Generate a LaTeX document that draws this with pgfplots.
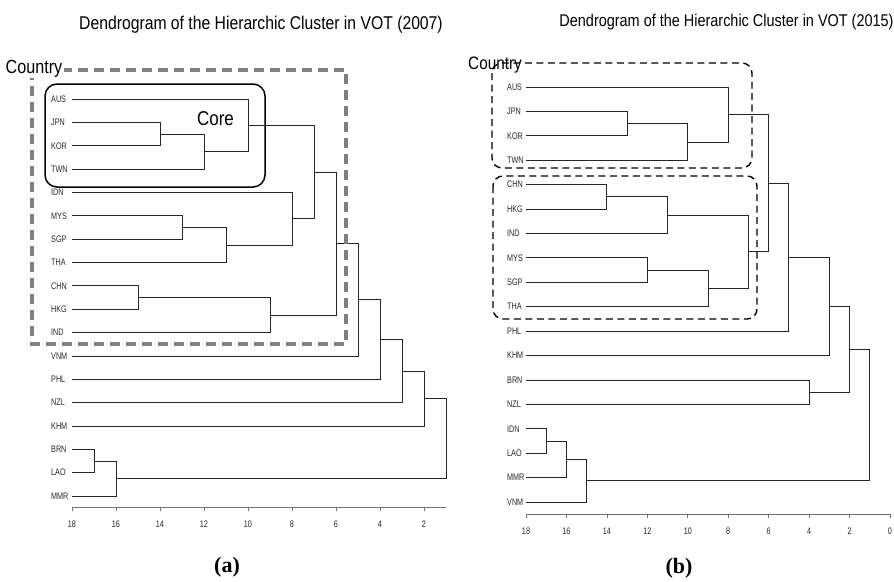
\documentclass[border=0pt]{standalone}
\usepackage{fontspec}
\setmainfont{Liberation Sans}
\newfontfamily\narrow[FakeStretch=0.76]{Liberation Sans}
\newfontfamily\titlefont[FakeStretch=0.85]{Liberation Sans}
\newfontfamily\capfont{Liberation Serif}
\usepackage{pgfplots}
\pgfplotsset{compat=1.18}
\pgfplotsset{
  dendro/.style={
    scale only axis, clip=false, x dir=reverse,
    axis x line*=bottom, axis y line=none,
    x axis line style={black!55, line width=0.6pt},
    xtick align=outside, major tick length=4pt,
    xtick style={black!55, line width=0.6pt},
    xticklabel style={font=\narrow\fontsize{9.5}{9.5}\selectfont, text=black!85, yshift=-6pt},
    /pgf/number format/assume math mode=true,
  },
}
\tikzset{
  br/.style={black!85, line width=0.8pt, mark=none},
  leaf/.style={anchor=west, inner sep=0pt, font=\narrow\fontsize{9.5}{9.5}\selectfont, text=black!85},
}
\begin{document}
\begin{tikzpicture}
\useasboundingbox (0,0) rectangle (894pt,-581pt);
\fill[white] (0,0) rectangle (894pt,-581pt);
% ---------------- (a) 2007 ----------------
\begin{axis}[dendro, at={(72pt,-507pt)}, anchor=south west,
  width=374pt, height=431.3pt, xmin=1, xmax=18, ymin=0.53, ymax=19,
  xtick={18,16,...,2}]
\addplot[br] coordinates {(18,17) (14,17) (14,16) (18,16)};
\addplot[br] coordinates {(14,16.5) (12,16.5) (12,15) (18,15)};
\addplot[br] coordinates {(18,18) (10,18) (10,15.75) (12,15.75)};
\addplot[br] coordinates {(18,13) (13,13) (13,12) (18,12)};
\addplot[br] coordinates {(13,12.5) (11,12.5) (11,11) (18,11)};
\addplot[br] coordinates {(18,14) (8,14) (8,11.75) (11,11.75)};
\addplot[br] coordinates {(10,16.875) (7,16.875) (7,12.875) (8,12.875)};
\addplot[br] coordinates {(18,10) (15,10) (15,9) (18,9)};
\addplot[br] coordinates {(15,9.5) (9,9.5) (9,8) (18,8)};
\addplot[br] coordinates {(7,14.875) (6,14.875) (6,8.75) (9,8.75)};
\addplot[br] coordinates {(6,11.8125) (5,11.8125) (5,7) (18,7)};
\addplot[br] coordinates {(5,9.40625) (4,9.40625) (4,6) (18,6)};
\addplot[br] coordinates {(4,7.703125) (3,7.703125) (3,5) (18,5)};
\addplot[br] coordinates {(3,6.3515625) (2,6.3515625) (2,4) (18,4)};
\addplot[br] coordinates {(18,3) (17,3) (17,2) (18,2)};
\addplot[br] coordinates {(17,2.5) (16,2.5) (16,1) (18,1)};
\addplot[br] coordinates {(2,5.17578125) (1,5.17578125) (1,1.75) (16,1.75)};
\node[leaf, xshift=-21pt] at (axis cs:18,18) {AUS};
\node[leaf, xshift=-21pt] at (axis cs:18,17) {JPN};
\node[leaf, xshift=-21pt] at (axis cs:18,16) {KOR};
\node[leaf, xshift=-21pt] at (axis cs:18,15) {TWN};
\node[leaf, xshift=-21pt] at (axis cs:18,14) {IDN};
\node[leaf, xshift=-21pt] at (axis cs:18,13) {MYS};
\node[leaf, xshift=-21pt] at (axis cs:18,12) {SGP};
\node[leaf, xshift=-21pt] at (axis cs:18,11) {THA};
\node[leaf, xshift=-21pt] at (axis cs:18,10) {CHN};
\node[leaf, xshift=-21pt] at (axis cs:18,9) {HKG};
\node[leaf, xshift=-21pt] at (axis cs:18,8) {IND};
\node[leaf, xshift=-21pt] at (axis cs:18,7) {VNM};
\node[leaf, xshift=-21pt] at (axis cs:18,6) {PHL};
\node[leaf, xshift=-21pt] at (axis cs:18,5) {NZL};
\node[leaf, xshift=-21pt] at (axis cs:18,4) {KHM};
\node[leaf, xshift=-21pt] at (axis cs:18,3) {BRN};
\node[leaf, xshift=-21pt] at (axis cs:18,2) {LAO};
\node[leaf, xshift=-21pt] at (axis cs:18,1) {MMR};
\end{axis}
% ---------------- (b) 2015 ----------------
\begin{axis}[dendro, at={(526pt,-514pt)}, anchor=south west,
  width=364pt, height=451.4pt, xmin=0, xmax=18, ymin=0.508, ymax=19,
  xtick={18,16,...,0}]
\addplot[br] coordinates {(18,17) (13,17) (13,16) (18,16)};
\addplot[br] coordinates {(13,16.5) (10,16.5) (10,15) (18,15)};
\addplot[br] coordinates {(18,18) (8,18) (8,15.75) (10,15.75)};
\addplot[br] coordinates {(18,14) (14,14) (14,13) (18,13)};
\addplot[br] coordinates {(14,13.5) (11,13.5) (11,12) (18,12)};
\addplot[br] coordinates {(18,11) (12,11) (12,10) (18,10)};
\addplot[br] coordinates {(12,10.5) (9,10.5) (9,9) (18,9)};
\addplot[br] coordinates {(11,12.75) (7,12.75) (7,9.75) (9,9.75)};
\addplot[br] coordinates {(8,16.875) (6,16.875) (6,11.25) (7,11.25)};
\addplot[br] coordinates {(6,14.0625) (5,14.0625) (5,8) (18,8)};
\addplot[br] coordinates {(5,11.03125) (3,11.03125) (3,7) (18,7)};
\addplot[br] coordinates {(18,6) (4,6) (4,5) (18,5)};
\addplot[br] coordinates {(3,9.015625) (2,9.015625) (2,5.5) (4,5.5)};
\addplot[br] coordinates {(18,4) (17,4) (17,3) (18,3)};
\addplot[br] coordinates {(17,3.5) (16,3.5) (16,2) (18,2)};
\addplot[br] coordinates {(16,2.75) (15,2.75) (15,1) (18,1)};
\addplot[br] coordinates {(2,7.2578125) (1,7.2578125) (1,1.875) (15,1.875)};
\node[leaf, xshift=-19pt] at (axis cs:18,18) {AUS};
\node[leaf, xshift=-19pt] at (axis cs:18,17) {JPN};
\node[leaf, xshift=-19pt] at (axis cs:18,16) {KOR};
\node[leaf, xshift=-19pt] at (axis cs:18,15) {TWN};
\node[leaf, xshift=-19pt] at (axis cs:18,14) {CHN};
\node[leaf, xshift=-19pt] at (axis cs:18,13) {HKG};
\node[leaf, xshift=-19pt] at (axis cs:18,12) {IND};
\node[leaf, xshift=-19pt] at (axis cs:18,11) {MYS};
\node[leaf, xshift=-19pt] at (axis cs:18,10) {SGP};
\node[leaf, xshift=-19pt] at (axis cs:18,9) {THA};
\node[leaf, xshift=-19pt] at (axis cs:18,8) {PHL};
\node[leaf, xshift=-19pt] at (axis cs:18,7) {KHM};
\node[leaf, xshift=-19pt] at (axis cs:18,6) {BRN};
\node[leaf, xshift=-19pt] at (axis cs:18,5) {NZL};
\node[leaf, xshift=-19pt] at (axis cs:18,4) {IDN};
\node[leaf, xshift=-19pt] at (axis cs:18,3) {LAO};
\node[leaf, xshift=-19pt] at (axis cs:18,2) {MMR};
\node[leaf, xshift=-19pt] at (axis cs:18,1) {VNM};
\end{axis}
% ---------------- annotations ----------------
\node[anchor=base, inner sep=0pt, font=\titlefont\fontsize{18.5}{18.5}\selectfont] at (261pt,-29.5pt) {Dendrogram of the Hierarchic Cluster in VOT (2007)};
\node[anchor=base, inner sep=0pt, font=\titlefont\fontsize{17}{17}\selectfont] at (726.5pt,-26.7pt) {Dendrogram of the Hierarchic Cluster in VOT (2015)};
% (a) boxes
\draw[black!50, line width=4pt, dash pattern=on 10pt off 6pt] (32pt,-70pt) rectangle (346pt,-344pt);
\node[anchor=base west, fill=white, inner sep=1.5pt, font=\titlefont\fontsize{19}{19}\selectfont] at (4pt,-73pt) {Country};
\draw[black, line width=1.5pt, rounded corners=12pt] (45pt,-84pt) rectangle (265pt,-187pt);
\node[anchor=base, inner sep=0pt, font=\titlefont\fontsize{20}{20}\selectfont] at (215.5pt,-125pt) {Core};
% (b) boxes
\node[anchor=base west, inner sep=0pt, font=\titlefont\fontsize{18}{18}\selectfont] at (468pt,-69pt) {Country};
\draw[black, line width=1.4pt, dash pattern=on 7pt off 4.5pt, rounded corners=10pt] (492pt,-63pt) rectangle (752pt,-168pt);
\draw[black, line width=1.4pt, dash pattern=on 7pt off 4.5pt, rounded corners=10pt] (493pt,-176pt) rectangle (757pt,-319pt);
% captions
\node[font=\capfont\bfseries\fontsize{22}{22}\selectfont] at (227pt,-567pt) {(a)};
\node[font=\capfont\bfseries\fontsize{22}{22}\selectfont] at (679pt,-568pt) {(b)};
\end{tikzpicture}
\end{document}
